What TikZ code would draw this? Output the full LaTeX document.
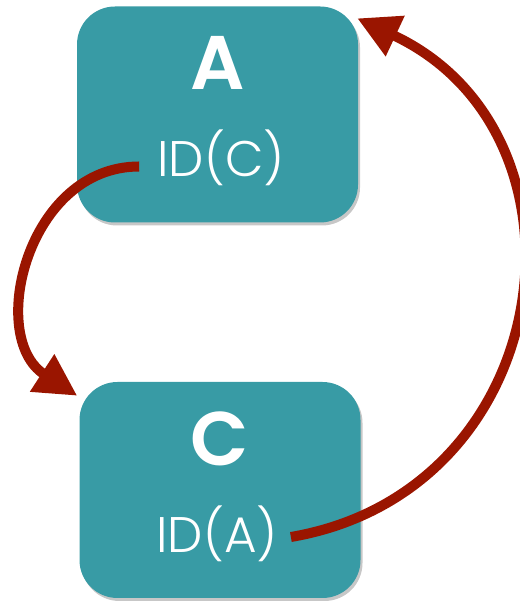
\documentclass[tikz,border=0pt]{standalone}
\usepackage{fontspec}
\setmainfont{Poppins}
\newfontfamily\titlefont{Poppins SemiBold}
\newfontfamily\idfont{Poppins Light}
\usetikzlibrary{arrows.meta,shadows}
\definecolor{boxteal}{RGB}{56,155,165}
\definecolor{linkred}{RGB}{154,21,0}
\tikzset{
  entity/.style={rounded corners=38pt, fill=boxteal, minimum width=281pt,
    minimum height=216pt, inner sep=0pt,
    drop shadow={shadow xshift=2pt, shadow yshift=-3pt, opacity=0.22, fill=black}},
  title/.style={text=white, inner sep=0pt, anchor=base,
    font=\titlefont\fontsize{76}{76}\selectfont},
  idtext/.style={text=white, inner sep=0pt, anchor=base,
    font=\idfont\fontsize{50}{50}\selectfont},
  link/.style={draw=linkred, line width=10pt,
    -{Triangle[length=42pt,width=42pt]}}
}
\begin{document}
\begin{tikzpicture}[x=1pt,y=1pt]
  \useasboundingbox (0,0) rectangle (519,601);
  % the two entities
  \node[entity] (boxA) at (217.5,486.5) {};
  \node[entity] (boxC) at (220,111) {};
  % labels
  \node[title]  (nameA) at (218,511) {A};
  \node[idtext] (idC)   at (221,424) {ID(C)};
  \node[title]  (nameC) at (220,135) {C};
  \node[idtext] (idA)   at (217,48)  {ID(A)};
  % references between the entities
  \draw[link] ([xshift=-18pt,yshift=10.5pt]idC.base west)
    .. controls +(180:112) and +(147:108) ..
    ([xshift=-2pt,yshift=-14pt]boxC.north west);
  \draw[link] ([xshift=13pt,yshift=16pt]idA.base east)
    .. controls +(9.7:272) and +(334.9:272) ..
    ([xshift=-1pt,yshift=-12pt]boxA.north east);
\end{tikzpicture}
\end{document}
